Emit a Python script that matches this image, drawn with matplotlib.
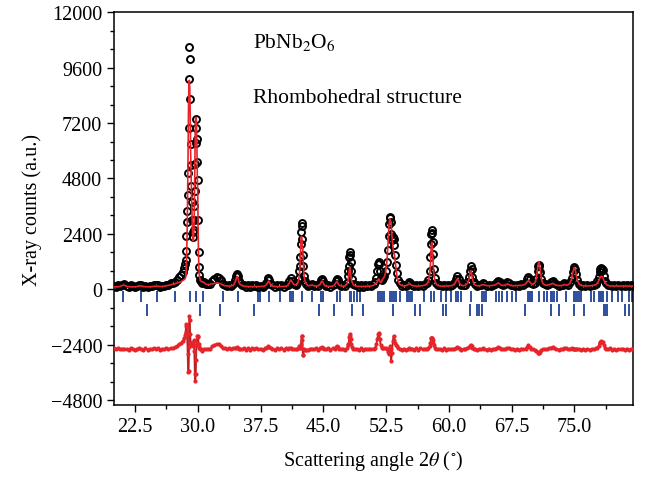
import numpy as np
import matplotlib
matplotlib.use('Agg')
import matplotlib.pyplot as plt
from matplotlib.ticker import MultipleLocator, FormatStrFormatter

plt.rcParams['font.family'] = 'Liberation Serif'
plt.rcParams['mathtext.fontset'] = 'stix'

# scan points (2theta, degrees)
two_theta = [
    20.0, 20.25, 20.5, 20.75, 21.0, 21.25, 21.5, 21.75, 22.0, 22.25, 22.5, 22.75, 23.0, 23.25,
    23.5, 23.75, 24.0, 24.25, 24.5, 24.75, 25.0, 25.25, 25.5, 25.75, 26.0, 26.25, 26.5, 26.75,
    27.0, 27.25, 27.5, 27.75, 28.0, 28.2, 28.4, 28.5, 28.55, 28.6, 28.65, 28.7, 28.75, 28.8,
    28.85, 28.9, 28.95, 29.0, 29.05, 29.1, 29.15, 29.2, 29.25, 29.3, 29.35, 29.4, 29.45, 29.5,
    29.55, 29.6, 29.65, 29.7, 29.75, 29.8, 29.85, 29.9, 29.95, 30.0, 30.05, 30.1, 30.15, 30.2,
    30.3, 30.4, 30.5, 30.75, 31.0, 31.25, 31.5, 31.75, 32.0, 32.25, 32.5, 32.75, 33.0, 33.25,
    33.5, 33.75, 34.0, 34.25, 34.5, 34.6, 34.7, 34.8, 34.9, 35.0, 35.25, 35.5, 35.75, 36.0,
    36.25, 36.5, 36.75, 37.0, 37.25, 37.5, 37.75, 38.0, 38.2, 38.35, 38.45, 38.55, 38.7, 38.9,
    39.25, 39.5, 39.75, 40.0, 40.25, 40.5, 40.75, 40.95, 41.1, 41.25, 41.45, 41.7, 41.9,
    42.05, 42.15, 42.2, 42.25, 42.3, 42.35, 42.4, 42.45, 42.5, 42.55, 42.6, 42.7, 42.8, 42.95,
    43.2, 43.45, 43.65, 43.85, 44.1, 44.35, 44.6, 44.75, 44.85, 44.95, 45.1, 45.35, 45.6, 45.85,
    46.1, 46.35, 46.5, 46.6, 46.7, 46.85, 47.1, 47.35, 47.6, 47.8, 47.95,
    48.0, 48.05, 48.1, 48.15, 48.2, 48.25, 48.3, 48.4, 48.55, 48.75,
    49.0, 49.25, 49.5, 49.75, 50.0, 50.25, 50.5, 50.75, 51.0, 51.2, 51.35, 51.45,
    51.55, 51.6, 51.65, 51.75, 51.85, 51.95, 52.1, 52.3, 52.45, 52.6, 52.7, 52.8,
    52.9, 52.95, 53.0, 53.05, 53.1, 53.2, 53.3, 53.4, 53.5, 53.6, 53.7, 53.8, 53.95,
    54.1, 54.35, 54.6, 54.85, 55.1, 55.25, 55.4, 55.6, 55.85, 56.1, 56.35, 56.6, 56.85, 57.1,
    57.35, 57.55, 57.7, 57.8, 57.85, 57.9, 57.95, 58.0, 58.05, 58.1, 58.2, 58.3, 58.45, 58.65,
    58.9, 59.15, 59.4, 59.65, 59.9, 60.15, 60.4, 60.65, 60.85, 61.0, 61.15, 61.3, 61.5, 61.75,
    61.95, 62.2, 62.4, 62.5, 62.6, 62.7, 62.8, 62.95, 63.15, 63.4, 63.65, 63.85, 64.05, 64.25,
    64.5, 64.75, 65.0, 65.25, 65.5, 65.75, 65.9, 66.05, 66.25, 66.5, 66.75, 66.95, 67.15, 67.4,
    67.65, 67.9, 68.15, 68.4, 68.65, 68.9, 69.15, 69.35, 69.5, 69.65, 69.85, 70.05, 70.3, 70.45,
    70.6, 70.7, 70.75, 70.8, 70.9, 71.05, 71.2, 71.45, 71.7, 71.95, 72.2, 72.4, 72.6, 72.85,
    73.1, 73.35, 73.6, 73.8, 74.0, 74.2, 74.45, 74.65, 74.8, 74.9, 75.0, 75.1, 75.2, 75.35,
    75.55, 75.8, 76.05, 76.3, 76.55, 76.8, 77.05, 77.3, 77.55, 77.75, 77.9, 78.0, 78.1, 78.2,
    78.3, 78.4, 78.5, 78.65, 78.8, 79.0, 79.25, 79.5, 79.75, 80.0, 80.25, 80.5, 80.75, 81.0,
    81.25, 81.5, 81.75, 82.0,
]

# measured intensity
obs_counts = [
    165, 115, 170, 140, 205, 225, 150, 110, 175, 130, 100, 165, 195, 180,
    120, 160, 105, 150, 135, 185, 170, 200, 115, 160, 140, 200, 190, 260,
    280, 330, 420, 520, 620, 750, 920, 1100, 1290, 1680, 2290, 2930, 3410, 4100,
    5020, 6980, 9120, 10500, 9980, 8250, 6300, 5400, 4490, 3790, 3000, 2500, 2250, 2550,
    3010, 3630, 4250, 5430, 6340, 6990, 7380, 6500, 5500, 4750, 3020, 1640, 960, 620,
    410, 360, 280, 300, 230, 250, 240, 370, 440, 530, 490, 410, 250, 210,
    160, 200, 150, 240, 400, 560, 650, 560, 380, 270, 170, 200, 125, 175,
    115, 170, 130, 175, 125, 165, 120, 190, 260, 420, 500, 420, 250, 190,
    120, 170, 130, 175, 115, 180, 200, 350, 480, 380, 220, 200, 260,
    480, 800, 1020, 1410, 1970, 2490, 2880, 2750, 2200, 1500, 1000, 580, 350, 220,
    150, 210, 230, 160, 185, 140, 260, 400, 460, 380, 230, 140, 175, 125,
    185, 230, 380, 460, 400, 240, 150, 175, 140, 260, 580,
    800, 1020, 1410, 1640, 1500, 1200, 800, 450, 250, 170,
    170, 120, 175, 125, 170, 135, 180, 160, 220, 300, 500, 800,
    1080, 1180, 1100, 800, 500, 400, 500, 600, 800, 1200, 1700, 2300,
    2850, 3100, 3130, 2900, 2400, 2150, 2250, 2200, 1900, 1500, 1050, 700, 400,
    260, 160, 190, 150, 230, 300, 260, 210, 145, 185, 140, 195, 160, 215,
    260, 400, 800, 1400, 1980, 2400, 2550, 2450, 2050, 1550, 900, 500, 260, 180,
    180, 130, 185, 145, 180, 150, 200, 260, 430, 570, 450, 270, 170, 195,
    200, 300, 520, 800, 1030, 900, 550, 300, 215, 150, 195, 185, 260, 220,
    160, 200, 150, 210, 220, 320, 380, 310, 225, 170, 230, 310, 260, 175,
    195, 150, 200, 160, 215, 195, 280, 430, 555, 450, 280, 230, 280, 450,
    800, 1000, 1060, 1000, 750, 430, 270, 220, 180, 250, 310, 380, 290, 215,
    160, 200, 180, 260, 240, 200, 300, 500, 760, 900, 960, 880, 650, 400,
    250, 165, 190, 140, 185, 150, 200, 180, 250, 350, 550, 750, 880, 920,
    900, 820, 600, 380, 260, 175, 195, 145, 180, 140, 175, 145, 190, 140,
    185, 140, 175, 150,
]

# refined (calculated) profile
calc_counts = [
    110, 110, 112, 130, 175, 185, 135, 115, 110, 110, 112, 125, 150, 150,
    125, 115, 112, 112, 120, 130, 140, 135, 125, 130, 140, 155, 175, 200,
    220, 240, 270, 300, 340, 380, 430, 460, 520, 650, 1200, 1900, 2800, 4300,
    6000, 7900, 9000, 9050, 8700, 7600, 6000, 5100, 4300, 3500, 2800, 2300, 2100, 2200,
    2600, 3700, 5300, 6800, 7400, 7450, 7200, 6200, 4900, 4150, 2500, 1400, 850, 560,
    400, 350, 330, 300, 220, 210, 220, 240, 260, 280, 270, 240, 190, 160,
    150, 145, 150, 180, 330, 480, 560, 500, 340, 240, 170, 140, 130, 125,
    120, 120, 120, 125, 125, 125, 130, 145, 200, 300, 360, 320, 200, 150,
    125, 120, 120, 125, 125, 135, 170, 290, 400, 340, 220, 190, 230,
    400, 650, 900, 1350, 1900, 2250, 2300, 2150, 1800, 1750, 1250, 560, 380, 240,
    160, 170, 190, 160, 140, 150, 200, 320, 360, 310, 190, 140, 130, 130,
    140, 190, 290, 330, 300, 200, 150, 135, 150, 210, 400,
    550, 720, 880, 960, 920, 760, 560, 350, 220, 160,
    140, 130, 130, 130, 130, 135, 140, 150, 180, 220, 260, 330,
    420, 455, 440, 350, 300, 320, 450, 550, 750, 1200, 1800, 2500,
    2950, 3050, 3000, 2900, 2900, 2300, 1900, 1600, 1500, 1200, 850, 560, 340,
    230, 170, 150, 160, 200, 240, 220, 170, 150, 140, 145, 150, 160, 180,
    230, 340, 650, 1100, 1500, 1900, 2040, 1950, 1650, 1250, 700, 420, 250, 170,
    150, 140, 140, 150, 145, 150, 170, 220, 360, 455, 380, 240, 180, 160,
    180, 250, 430, 650, 815, 740, 480, 270, 180, 160, 160, 180, 210, 190,
    165, 160, 165, 170, 190, 250, 280, 240, 185, 170, 190, 230, 210, 170,
    160, 160, 165, 170, 175, 190, 240, 330, 380, 330, 240, 220, 300, 520,
    900, 1150, 1200, 1150, 850, 460, 270, 190, 180, 200, 230, 260, 220, 180,
    165, 165, 180, 210, 190, 190, 260, 450, 730, 880, 950, 860, 620, 380,
    230, 170, 155, 150, 150, 155, 165, 180, 200, 280, 380, 470, 540, 570,
    560, 500, 400, 300, 220, 170, 150, 150, 145, 150, 145, 145, 150, 145,
    145, 145, 140, 145,
]

# Bragg reflection positions
phase1_ticks = [
    21.08, 23.19, 25.1, 27.3, 29.05, 29.85, 30.64, 33.0, 34.75, 37.15, 37.46, 38.46,
    39.77, 40.97, 41.13, 41.37, 42.45, 43.65, 44.76, 44.96, 46.63, 46.95, 48.15, 48.35,
    48.62, 49.03, 49.35, 51.5, 51.74, 52.0, 52.3, 52.93, 53.2, 53.5, 53.73, 54.13,
    55.0, 55.15, 55.3, 55.45, 55.6, 57.0, 57.9, 58.2, 59.1, 59.6, 60.2, 60.9, 61.06,
    61.4, 62.6, 64.0, 64.2, 64.4, 65.57, 65.97, 66.37, 66.97, 67.56, 67.96, 69.44,
    69.57, 69.7, 69.83, 69.96, 70.76, 71.35, 71.76, 72.15, 72.35, 72.55, 72.95, 73.94,
    74.94, 75.1, 75.3, 75.5, 75.74, 76.94, 77.34, 77.94, 78.07, 78.2, 78.32, 78.45,
    78.94, 79.54, 80.14, 80.73, 81.5, 81.9,
]
phase2_ticks = [
    23.9, 30.29, 32.64, 36.67, 44.52, 46.32, 48.47, 49.7, 53.34, 56.0, 56.6, 59.32,
    59.6, 62.5, 63.4, 63.55, 63.9, 69.04, 72.15, 73.15, 74.94, 76.14, 78.53, 78.7,
    78.94, 81.0, 81.5,
]

diff_offset = -2600

x = np.array(two_theta)
y_obs = np.array(obs_counts)
y_calc = np.array(calc_counts)
assert len(x) == len(y_obs) == len(y_calc)
y_diff = y_obs - y_calc + diff_offset

red = '#e8242b'
blue = '#2e4f9e'

fig, ax = plt.subplots(figsize=(6.46, 4.85), dpi=100)
fig.subplots_adjust(left=0.1765, right=0.98, top=0.973, bottom=0.163)

ax.vlines(phase1_ticks, -530, -50, color=blue, lw=1.4, zorder=1)
ax.vlines(phase2_ticks, -1160, -650, color=blue, lw=1.4, zorder=1)

ax.plot(x, y_obs, 'o', mfc='none', mec='black', ms=5.0, mew=1.4, zorder=2)
ax.plot(x, y_calc, '-', color=red, lw=1.2, zorder=3)

# difference curve: black trace under red points
ax.plot(x, y_diff, '-', color='black', lw=0.9, zorder=2)
ax.plot(x, y_diff, '-', color=red, lw=1.4, alpha=0.8, zorder=3)
ax.plot(x, y_diff, 'o', color=red, ms=3.0, mew=0, zorder=3)

ax.text(36.6, 10480, 'PbNb$_2$O$_6$', fontsize=15.5)
ax.text(36.6, 8100, 'Rhombohedral structure', fontsize=15.5)

ax.set_xlim(20, 82)
ax.set_ylim(-5000, 12000)
ax.xaxis.set_major_locator(MultipleLocator(7.5))
ax.xaxis.set_minor_locator(MultipleLocator(3.75))
ax.xaxis.set_major_formatter(FormatStrFormatter('%.1f'))
ax.yaxis.set_major_locator(MultipleLocator(2400))
ax.yaxis.set_minor_locator(MultipleLocator(800))
ax.tick_params(which='major', direction='out', length=5, width=1, labelsize=14.5)
ax.tick_params(which='minor', direction='out', length=3, width=1)
for s in ax.spines.values():
    s.set_linewidth(1.1)

ax.set_xlabel(r'Scattering angle 2$\theta$ ($^{\circ}$)', fontsize=14.5, labelpad=9)
ax.set_ylabel('X-ray counts (a.u.)', fontsize=14.5, labelpad=6)

fig.savefig('out.png', dpi=100)
